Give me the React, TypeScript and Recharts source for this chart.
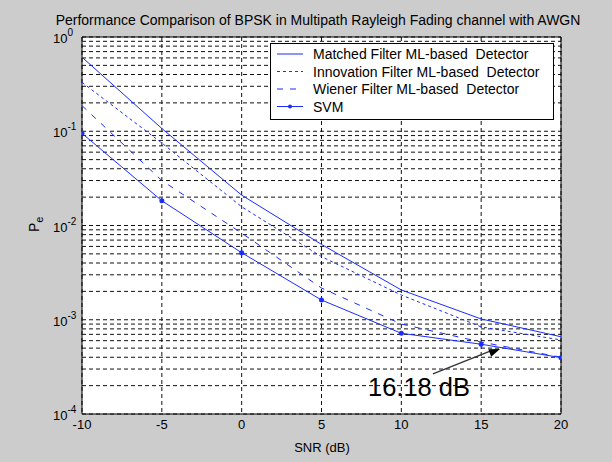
import React from "react";
import {
  CartesianGrid,
  Legend,
  Line,
  LineChart,
  ReferenceArea,
  ReferenceDot,
  ReferenceLine,
  XAxis,
  YAxis,
} from "recharts";

const snr = [-10, -5, 0, 5, 10, 15, 20];
const matched = [0.61, 0.107, 0.021, 0.0063, 0.00207, 0.00102, 0.00066];
const innovation = [0.33, 0.075, 0.0158, 0.00467, 0.00183, 0.00084, 0.00061];
const wiener = [0.187, 0.03, 0.0083, 0.00217, 0.0009, 0.00058, 0.0004];
const svm = [0.095, 0.0183, 0.00514, 0.00162, 0.000718, 0.00055, 0.000396];

const xTicks = [-10, -5, 0, 5, 10, 15, 20];
const decades = [1e-4, 1e-3, 1e-2, 1e-1, 1];
const minorSteps = [1, 2, 3, 4, 5, 6, 7, 8, 9];

// note on the svm curve
const noteLabel = "16.18 dB";
const noteHead = { x: 16.18, y: 4.9e-4 };
const noteTail = { x: 11.98, y: 2.66e-4 };
const noteText = { x: 7.91, y: 1.55e-4 };

const FONT = "'Liberation Sans', Arial, Helvetica, sans-serif";
const BLUE = "#1a2cff";

const data = snr.map((s, i) => ({
  snr: s,
  matched: matched[i],
  innovation: innovation[i],
  wiener: wiener[i],
  svm: svm[i],
}));

const yTicks = decades.flatMap((d) => (d === 1 ? [1] : minorSteps.map((k) => k * d)));

const isDecade = (v: number) => Math.abs(Math.log10(v) - Math.round(Math.log10(v))) < 1e-9;

const legendItems = [
  { label: "Matched Filter ML-based  Detector", dash: undefined as string | undefined, dot: false },
  { label: "Innovation Filter ML-based  Detector", dash: "3 3", dot: false },
  { label: "Wiener Filter ML-based  Detector", dash: "6 7", dot: false },
  { label: "SVM", dash: undefined, dot: true },
];

function XTick({ x, y, payload }: any) {
  return (
    <text x={x} y={y + 15} textAnchor="middle" fontSize={13} fontFamily={FONT} fill="#000">
      {payload.value}
    </text>
  );
}

function YTick({ x, y, payload }: any) {
  const v = payload.value;
  if (!isDecade(v)) return <g />;
  const exp = Math.round(Math.log10(v));
  return (
    <text x={x - 29} y={y + 6} fontSize={13} fontFamily={FONT} fill="#000">
      10
      <tspan dy={-7} fontSize={10}>
        {String(exp)}
      </tspan>
    </text>
  );
}

function LegendBox() {
  return (
    <svg width={284} height={77} style={{ display: "block" }}>
      <rect x={0.5} y={0.5} width={283} height={76} fill="#fff" stroke="#000" />
      {legendItems.map((it, i) => {
        const cy = 11 + i * 17.5;
        return (
          <g key={it.label}>
            <line x1={7} x2={33} y1={cy} y2={cy} stroke={BLUE} strokeDasharray={it.dash} />
            {it.dot && <circle cx={20} cy={cy} r={2} fill={BLUE} />}
            <text
              x={43}
              y={cy + 5}
              fontSize={14}
              fontFamily={FONT}
              fill="#000"
              style={{ whiteSpace: "pre" }}
            >
              {it.label}
            </text>
          </g>
        );
      })}
    </svg>
  );
}

function ArrowHead({ cx, cy }: any) {
  const ux = 0.933;
  const uy = -0.359;
  const bx = cx - 11 * ux;
  const by = cy - 11 * uy;
  const px = -uy * 4;
  const py = ux * 4;
  return (
    <polygon
      points={`${cx},${cy} ${bx + px},${by + py} ${bx - px},${by - py}`}
      fill="#000"
    />
  );
}

function NoteText({ cx, cy }: any) {
  return (
    <text x={cx} y={cy} fontSize={25.5} fontFamily={FONT} fill="#000">
      {noteLabel}
    </text>
  );
}

export default function App() {
  return (
    <div
      style={{
        position: "absolute",
        left: 0,
        top: 0,
        width: 612,
        height: 462,
        background: "#cccccc",
        fontFamily: FONT,
      }}
    >
      <div
        style={{
          position: "absolute",
          left: 0,
          top: 12,
          width: 636,
          textAlign: "center",
          fontSize: 14,
          color: "#000",
          whiteSpace: "nowrap",
        }}
      >
        Performance Comparison of BPSK in Multipath Rayleigh Fading channel with AWGN
      </div>
      <svg width={60} height={462} style={{ position: "absolute", left: 0, top: 0 }}>
        <text
          transform="translate(39,232) rotate(-90)"
          fontSize={14}
          fontFamily={FONT}
          fill="#000"
        >
          P
          <tspan dy={4} fontSize={11}>
            e
          </tspan>
        </text>
      </svg>
      <svg width={612} height={462} style={{ position: "absolute", left: 0, top: 0 }}>
        <text x={322} y={452} textAnchor="middle" fontSize={13} fontFamily={FONT} fill="#000">
          SNR (dB)
        </text>
      </svg>
      <div style={{ position: "absolute", left: 0, top: 0 }}>
        <LineChart
          width={612}
          height={462}
          data={data}
          margin={{ top: 37, right: 51, bottom: 18, left: 22 }}
        >
          <CartesianGrid
            stroke="#111"
            strokeDasharray="4 3"
            fill="#fff"
            fillOpacity={1}
          />
          <XAxis
            type="number"
            dataKey="snr"
            domain={[-10, 20]}
            ticks={xTicks}
            height={30}
            tickSize={0}
            tickMargin={0}
            tickLine={false}
            axisLine={false}
            tick={<XTick />}
            allowDataOverflow
          />
          <YAxis
            type="number"
            scale="log"
            domain={[1e-4, 1]}
            ticks={yTicks}
            interval={0}
            width={60}
            tickSize={0}
            tickMargin={0}
            tickLine={false}
            axisLine={false}
            tick={<YTick />}
            allowDataOverflow
          />
          <ReferenceArea
            x1={-10}
            x2={20}
            y1={1e-4}
            y2={1}
            fill="none"
            stroke="#000"
            strokeWidth={1}
            fillOpacity={0}
          />
          <Line
            dataKey="matched"
            type="linear"
            stroke={BLUE}
            strokeWidth={1}
            dot={false}
            activeDot={false}
            isAnimationActive={false}
          />
          <Line
            dataKey="innovation"
            type="linear"
            stroke={BLUE}
            strokeWidth={1}
            strokeDasharray="3 3"
            dot={false}
            activeDot={false}
            isAnimationActive={false}
          />
          <Line
            dataKey="wiener"
            type="linear"
            stroke={BLUE}
            strokeWidth={1}
            strokeDasharray="6 7"
            dot={false}
            activeDot={false}
            isAnimationActive={false}
          />
          <Line
            dataKey="svm"
            type="linear"
            stroke={BLUE}
            strokeWidth={1}
            dot={{ r: 2.5, fill: BLUE, stroke: "none" }}
            activeDot={false}
            isAnimationActive={false}
          />
          <ReferenceLine
            segment={[noteTail, { x: noteHead.x - 0.5, y: noteHead.y * 0.965 }]}
            stroke="#333"
            strokeWidth={1.3}
            ifOverflow="visible"
          />
          <ReferenceDot x={noteHead.x} y={noteHead.y} shape={<ArrowHead />} ifOverflow="visible" />
          <ReferenceDot x={noteText.x} y={noteText.y} shape={<NoteText />} ifOverflow="visible" />
          <Legend
            layout="horizontal"
            verticalAlign="middle"
            align="center"
            content={<LegendBox />}
            wrapperStyle={{ left: 270, top: 43, width: 284, height: 77 }}
          />
        </LineChart>
      </div>
    </div>
  );
}
